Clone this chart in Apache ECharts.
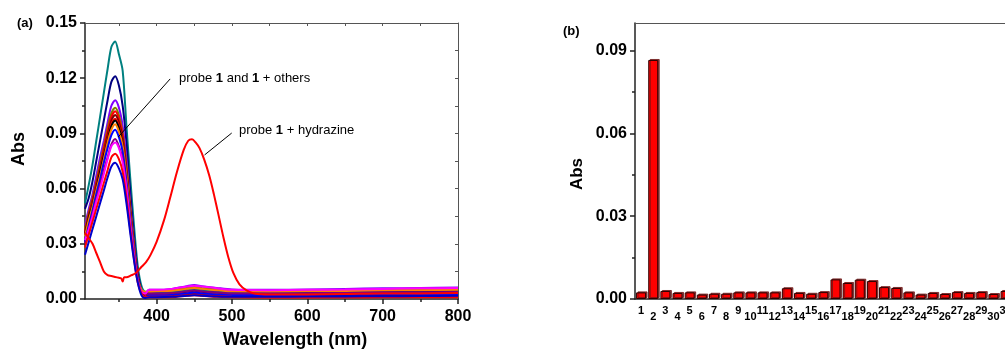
<!DOCTYPE html>
<html>
<head>
<meta charset="utf-8">
<script src="https://cdn.jsdelivr.net/npm/echarts@6/dist/echarts.min.js"></script>
<style>
html, body { margin: 0; padding: 0; background: #fff; overflow: hidden; }
#chart { width: 1005px; height: 350px; }
</style>
</head>
<body>
<div id="chart"></div>
<script>
// (a) spectra
const waveGrid = [305, 310, 315, 320, 325, 330, 335, 340, 345, 350, 355, 360, 365, 370, 375, 380, 385, 390,
  400, 420, 440, 450, 460, 480, 500, 550, 600, 650, 700, 750, 800];

const absTeal = [0.052, 0.062, 0.073, 0.086, 0.099, 0.112, 0.125, 0.137, 0.140, 0.133, 0.124, 0.094, 0.066, 0.040, 0.018, 0.007, 0.004, 0.004,
  0.004, 0.004, 0.005, 0.0055, 0.005, 0.0045, 0.004, 0.0038, 0.004, 0.0042, 0.0045, 0.0048, 0.005];
const absNavy = [0.049, 0.055, 0.064, 0.075, 0.086, 0.097, 0.108, 0.118, 0.121, 0.116, 0.105, 0.085, 0.058, 0.034, 0.015, 0.005, 0.002, 0.003,
  0.003, 0.003, 0.004, 0.0045, 0.004, 0.0035, 0.003, 0.003, 0.0032, 0.0035, 0.0038, 0.004, 0.0042];
const absViolet = [0.040, 0.049, 0.057, 0.067, 0.077, 0.086, 0.096, 0.105, 0.108, 0.104, 0.094, 0.076, 0.052, 0.030, 0.013, 0.004, 0.003, 0.005,
  0.005, 0.0055, 0.007, 0.0076, 0.007, 0.006, 0.0052, 0.005, 0.0052, 0.0055, 0.0058, 0.006, 0.0062];
const absOlive = [0.038, 0.047, 0.055, 0.064, 0.074, 0.083, 0.093, 0.101, 0.104, 0.100, 0.090, 0.073, 0.050, 0.029, 0.012, 0.004, 0.003, 0.004,
  0.0045, 0.005, 0.006, 0.0065, 0.006, 0.0052, 0.0045, 0.0043, 0.0045, 0.0048, 0.005, 0.0052, 0.0054];
const absRedA = [0.037, 0.046, 0.054, 0.063, 0.072, 0.082, 0.091, 0.099, 0.102, 0.098, 0.089, 0.071, 0.049, 0.029, 0.012, 0.004, 0.001, 0.001,
  0.001, 0.001, 0.0018, 0.002, 0.0018, 0.0012, 0.001, 0.0008, 0.0008, 0.0008, 0.0009, 0.0009, 0.001];
const absWine = [0.036, 0.045, 0.053, 0.062, 0.071, 0.080, 0.089, 0.097, 0.100, 0.096, 0.087, 0.070, 0.048, 0.028, 0.012, 0.004, 0.002, 0.002,
  0.002, 0.0022, 0.003, 0.0034, 0.003, 0.0025, 0.0022, 0.002, 0.0021, 0.0022, 0.0024, 0.0025, 0.0026];
const absRedB = [0.036, 0.044, 0.052, 0.061, 0.070, 0.079, 0.087, 0.095, 0.098, 0.094, 0.085, 0.069, 0.047, 0.027, 0.012, 0.004, 0.002, 0.002,
  0.002, 0.002, 0.0026, 0.003, 0.0026, 0.002, 0.0018, 0.0017, 0.0018, 0.0019, 0.002, 0.0021, 0.0022];
const absBlack = [0.035, 0.044, 0.051, 0.060, 0.069, 0.078, 0.086, 0.094, 0.097, 0.093, 0.084, 0.068, 0.047, 0.027, 0.012, 0.004, 0.001, 0.0015,
  0.0015, 0.0016, 0.0022, 0.0025, 0.0022, 0.0018, 0.0016, 0.0016, 0.0017, 0.0018, 0.0019, 0.002, 0.0021];
const absOrange = [0.034, 0.043, 0.050, 0.059, 0.067, 0.076, 0.085, 0.092, 0.095, 0.091, 0.083, 0.067, 0.046, 0.027, 0.011, 0.005, 0.004, 0.004,
  0.0042, 0.0045, 0.0055, 0.006, 0.0055, 0.0047, 0.0042, 0.004, 0.0042, 0.0044, 0.0046, 0.0048, 0.005];
const absBlue = [0.031, 0.040, 0.048, 0.057, 0.065, 0.074, 0.082, 0.089, 0.092, 0.088, 0.080, 0.064, 0.044, 0.026, 0.011, 0.003, 0.001, 0.002,
  0.002, 0.0022, 0.003, 0.0035, 0.003, 0.0025, 0.0022, 0.0021, 0.0022, 0.0023, 0.0024, 0.0025, 0.0026];
const absPurple = [0.030, 0.038, 0.046, 0.054, 0.062, 0.070, 0.077, 0.084, 0.087, 0.083, 0.076, 0.061, 0.042, 0.024, 0.010, 0.004, 0.003, 0.003,
  0.003, 0.0033, 0.0042, 0.0046, 0.0042, 0.0035, 0.003, 0.003, 0.0031, 0.0033, 0.0035, 0.0036, 0.0038];
const absMagenta = [0.032, 0.038, 0.045, 0.053, 0.060, 0.068, 0.076, 0.083, 0.085, 0.082, 0.074, 0.060, 0.041, 0.024, 0.010, 0.004, 0.003, 0.005,
  0.005, 0.0055, 0.0068, 0.0072, 0.0068, 0.0058, 0.005, 0.0048, 0.005, 0.0052, 0.0055, 0.0058, 0.006];
const absRedC = [0.028, 0.035, 0.042, 0.049, 0.056, 0.063, 0.070, 0.077, 0.079, 0.076, 0.069, 0.055, 0.038, 0.022, 0.009, 0.003, 0.001, 0.0012,
  0.0012, 0.0013, 0.002, 0.0023, 0.002, 0.0015, 0.0012, 0.001, 0.001, 0.0011, 0.0012, 0.0012, 0.0013];
const absBlueLow = [0.024, 0.031, 0.038, 0.045, 0.052, 0.059, 0.066, 0.072, 0.074, 0.071, 0.065, 0.052, 0.036, 0.021, 0.009, 0.002, 0.0005, 0.001,
  0.001, 0.0012, 0.0018, 0.002, 0.0018, 0.0014, 0.0012, 0.0012, 0.0013, 0.0014, 0.0015, 0.0016, 0.0017];

const otherSpectra = [absTeal, absNavy, absViolet, absOlive, absRedA, absWine, absRedB, absBlack,
  absOrange, absBlue, absPurple, absMagenta, absRedC, absBlueLow];
const otherColors = ['#008080', '#000080', '#8000ff', '#808000', '#ff0000', '#800000', '#ff0000', '#000000',
  '#ff8000', '#0000ff', '#800080', '#ff00ff', '#ff0000', '#0000cc'];

// probe 1 + hydrazine
const hydWave = [305, 310, 315, 320, 325, 330, 335, 340, 345, 350, 353, 355, 357, 360, 366, 372, 380, 386, 392,
  400, 410, 418, 427, 436, 442, 447, 452, 457, 463, 470, 476, 482, 489, 495, 502, 510, 520, 530, 550,
  600, 650, 700, 750, 800];
const hydAbs = [0.036, 0.033, 0.030, 0.025, 0.020, 0.015, 0.013, 0.0125, 0.012, 0.0115, 0.0112, 0.0095, 0.0118, 0.0118, 0.0128, 0.014, 0.0175, 0.020, 0.024,
  0.031, 0.043, 0.055, 0.069, 0.081, 0.086, 0.0868, 0.085, 0.082, 0.076, 0.067, 0.057, 0.046, 0.033, 0.023, 0.014, 0.008, 0.0045, 0.003, 0.0025,
  0.0025, 0.0027, 0.003, 0.003, 0.0032];

// leader lines, in data units of panel (a)
const othersLeader = [[418, 0.1196], [349, 0.088]];
const hydLeader = [[499.7, 0.0902], [463.7, 0.0783]];

const xMajor = [400, 500, 600, 700, 800];
const xMinor = [350, 450, 550, 650, 750];
const xTop = [350, 400, 450, 500, 550, 600, 650, 700, 750, 800];

// (b) bars
const barCats = ['1', '2', '3', '4', '5', '6', '7', '8', '9', '10', '11', '12', '13', '14', '15', '16',
  '17', '18', '19', '20', '21', '22', '23', '24', '25', '26', '27', '28', '29', '30', '31'];
const barAbs = [0.0024, 0.0866, 0.0029, 0.0022, 0.0024, 0.0016, 0.0019, 0.0019, 0.0024, 0.0024, 0.0024, 0.0024,
  0.0039, 0.0022, 0.0019, 0.0025, 0.0071, 0.0058, 0.0070, 0.0065, 0.0043, 0.0040, 0.0024, 0.0016,
  0.0022, 0.0018, 0.0025, 0.0022, 0.0025, 0.0018, 0.0029];
const yBMajor = [0, 0.03, 0.06, 0.09];
const yBMinor = [0.015, 0.045, 0.075];

const FONT = "'Liberation Sans', Arial, sans-serif";
const DARK = '#222';
const FRAME = '#555';
const tickFont = { fontSize: 16, fontWeight: 'bold', color: '#000', fontFamily: FONT };

const chart = echarts.init(document.getElementById('chart'));

const lineSeries = otherSpectra.map((vals, i) => ({
  type: 'line',
  xAxisIndex: 0,
  yAxisIndex: 0,
  data: waveGrid.map((w, j) => [w, vals[j]]),
  showSymbol: false,
  smooth: 0.3,
  lineStyle: { width: 2, color: otherColors[i] },
  itemStyle: { color: otherColors[i] },
  silent: true
}));

lineSeries.push({
  type: 'line',
  xAxisIndex: 0,
  yAxisIndex: 0,
  data: hydWave.map((w, j) => [w, hydAbs[j]]),
  showSymbol: false,
  smooth: 0.3,
  lineStyle: { width: 2, color: '#ff0000' },
  itemStyle: { color: '#ff0000' },
  silent: true,
  markLine: {
    silent: true,
    symbol: ['none', 'none'],
    label: { show: false },
    lineStyle: { color: '#000', width: 1, type: 'solid' },
    data: [
      [{ coord: othersLeader[0] }, { coord: othersLeader[1] }],
      [{ coord: hydLeader[0] }, { coord: hydLeader[1] }]
    ]
  }
});

chart.setOption({
  animation: false,
  grid: [
    { left: 85, top: 23, width: 373, height: 276, outerBoundsMode: 'none' },
    { left: 635, top: 23, width: 376.65, height: 276, outerBoundsMode: 'none' }
  ],
  xAxis: [
    {
      gridIndex: 0, type: 'value', position: 'bottom', min: 305, max: 800,
      axisLine: { onZero: false, lineStyle: { color: DARK, width: 1.5 } },
      axisTick: { customValues: xMajor, length: 5, lineStyle: { color: DARK, width: 1.5 } },
      axisLabel: { customValues: xMajor, margin: 10, ...tickFont },
      splitLine: { show: false }
    },
    {
      gridIndex: 0, type: 'value', position: 'bottom', min: 305, max: 800,
      axisLine: { show: false, onZero: false },
      axisTick: { customValues: xMinor, length: 3, lineStyle: { color: DARK, width: 1.5 } },
      axisLabel: { show: false },
      splitLine: { show: false }
    },
    {
      gridIndex: 0, type: 'value', position: 'top', min: 305, max: 800,
      axisLine: { onZero: false, lineStyle: { color: FRAME, width: 1 } },
      axisTick: { inside: true, customValues: xTop, length: 3, lineStyle: { color: FRAME } },
      axisLabel: { show: false },
      splitLine: { show: false }
    },
    {
      gridIndex: 1, type: 'category', position: 'bottom', data: barCats, boundaryGap: true,
      axisLine: { onZero: false, lineStyle: { color: DARK, width: 1.5 } },
      axisTick: { alignWithLabel: true, interval: (i) => i % 2 === 1, length: 5, lineStyle: { color: DARK, width: 1.5 } },
      axisLabel: {
        interval: 0, margin: 6,
        formatter: (v, i) => (i % 2 === 0 ? '{a|' + v + '}' : '{b|' + v + '}'),
        rich: {
          a: { fontSize: 11, fontWeight: 'bold', color: '#000', fontFamily: FONT },
          b: { fontSize: 11, fontWeight: 'bold', color: '#000', fontFamily: FONT, padding: [6, 0, 0, 0] }
        }
      },
      splitLine: { show: false }
    },
    {
      gridIndex: 1, type: 'category', position: 'top', data: barCats, boundaryGap: true,
      axisLine: { onZero: false, lineStyle: { color: FRAME, width: 1 } },
      axisTick: { inside: true, alignWithLabel: true, interval: 0, length: 3, lineStyle: { color: FRAME } },
      axisLabel: { show: false },
      splitLine: { show: false }
    }
  ],
  yAxis: [
    {
      gridIndex: 0, type: 'value', position: 'left', min: 0, max: 0.15, interval: 0.03,
      axisLine: { show: true, onZero: false, lineStyle: { color: DARK, width: 1.5 } },
      axisTick: { show: true, length: 5, lineStyle: { color: DARK, width: 1.5 } },
      minorTick: { show: true, splitNumber: 2, length: 3, lineStyle: { color: DARK, width: 1.5 } },
      axisLabel: { margin: 8, formatter: (v) => v.toFixed(2), ...tickFont },
      splitLine: { show: false }
    },
    {
      gridIndex: 0, type: 'value', position: 'right', min: 0, max: 0.15, interval: 0.015,
      axisLine: { show: true, onZero: false, lineStyle: { color: FRAME, width: 1 } },
      axisTick: { show: true, inside: true, length: 3, lineStyle: { color: FRAME } },
      axisLabel: { show: false },
      splitLine: { show: false }
    },
    {
      gridIndex: 1, type: 'value', position: 'left', min: 0, max: 0.1,
      axisLine: { show: true, onZero: false, lineStyle: { color: DARK, width: 1.5 } },
      axisTick: { show: true, customValues: yBMajor, length: 5, lineStyle: { color: DARK, width: 1.5 } },
      axisLabel: { customValues: yBMajor, margin: 8, formatter: (v) => v.toFixed(2), ...tickFont },
      splitLine: { show: false }
    },
    {
      gridIndex: 1, type: 'value', position: 'left', min: 0, max: 0.1,
      axisLine: { show: false, onZero: false },
      axisTick: { show: true, customValues: yBMinor, length: 3, lineStyle: { color: DARK, width: 1.5 } },
      axisLabel: { show: false },
      splitLine: { show: false }
    }
  ],
  series: [
    ...lineSeries,
    {
      type: 'bar',
      xAxisIndex: 3,
      yAxisIndex: 2,
      data: barAbs,
      barWidth: 10,
      silent: true,
      itemStyle: {
        color: '#ff0000',
        borderColor: '#300000',
        borderWidth: 1,
        shadowColor: 'rgba(110,20,20,0.8)',
        shadowOffsetX: 1.5,
        shadowOffsetY: -1
      }
    }
  ],
  graphic: [
    { type: 'text', x: 17, y: 23, style: { text: '(a)', font: 'bold 13px ' + FONT, fill: '#000', verticalAlign: 'middle' } },
    { type: 'text', x: 563, y: 31, style: { text: '(b)', font: 'bold 13px ' + FONT, fill: '#000', verticalAlign: 'middle' } },
    { type: 'text', x: 19, y: 149, rotation: Math.PI / 2, style: { text: 'Abs', font: 'bold 18px ' + FONT, fill: '#000', align: 'center', verticalAlign: 'middle' } },
    { type: 'text', x: 577, y: 174, rotation: Math.PI / 2, style: { text: 'Abs', font: 'bold 17px ' + FONT, fill: '#000', align: 'center', verticalAlign: 'middle' } },
    { type: 'text', x: 295, y: 340, style: { text: 'Wavelength (nm)', font: 'bold 18px ' + FONT, fill: '#000', align: 'center', verticalAlign: 'middle' } },
    {
      type: 'text', x: 179, y: 78,
      style: {
        text: '{n|probe }{b|1}{n| and }{b|1}{n| + others}',
        verticalAlign: 'middle',
        rich: { n: { font: '13px ' + FONT, fill: '#000' }, b: { font: 'bold 13px ' + FONT, fill: '#000' } }
      }
    },
    {
      type: 'text', x: 239, y: 130,
      style: {
        text: '{n|probe }{b|1}{n| + hydrazine}',
        verticalAlign: 'middle',
        rich: { n: { font: '13px ' + FONT, fill: '#000' }, b: { font: 'bold 13px ' + FONT, fill: '#000' } }
      }
    }
  ]
});
</script>
</body>
</html>
